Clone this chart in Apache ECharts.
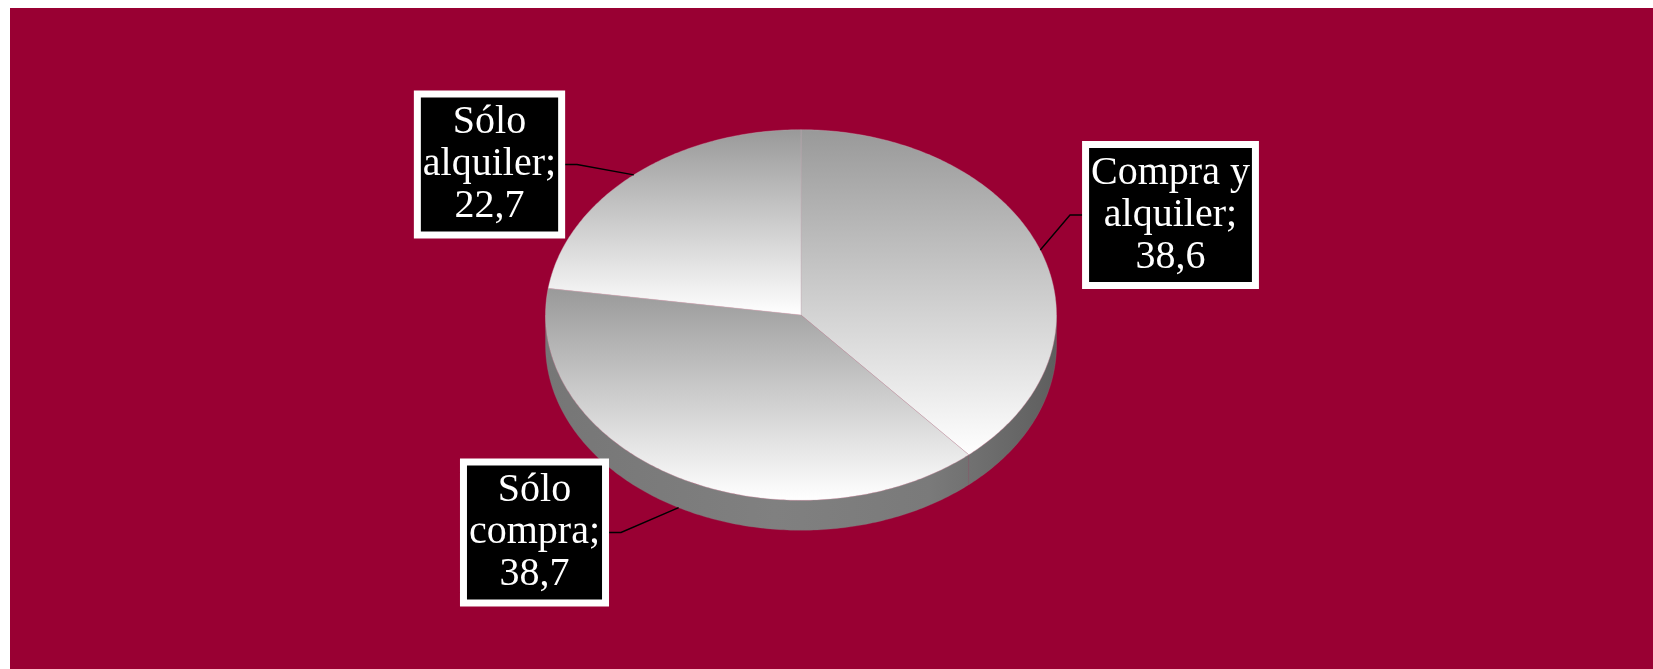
<!DOCTYPE html>
<html><head><meta charset="utf-8">
<script src="https://cdn.jsdelivr.net/npm/echarts@6/dist/echarts.min.js"></script>
<style>html,body{margin:0;padding:0;background:#fff;}#c{width:1653px;height:669px;}</style>
</head><body><div id="c"></div>
<script>
// ---- data ----
const categories = ['Compra y alquiler', 'Sólo compra', 'Sólo alquiler'];
const values = [38.6, 38.7, 22.7];

// ---- layout ----
const CX = 801, CY = 315, RX = 255.5, RY = 185.3, DEPTH = 30;
const LABEL_POS = [[369.5, -100], [-266.5, 217.5], [-311.5, -150.5]];
const ELBOW_DX = [-100.5, 86.5, 87.5];

const total = values.reduce((a, b) => a + b, 0);
const starts = []; let acc = 0;
values.forEach(v => { starts.push(acc / total * 2 * Math.PI); acc += v; });
function angles(i) { return [starts[i], starts[i] + values[i] / total * 2 * Math.PI]; }
function P(t, dy) { return [CX + RX * Math.sin(t), CY - RY * Math.cos(t) + (dy || 0)]; }
function arc(a1, a2, dy) {
  const n = Math.max(2, Math.ceil((a2 - a1) / (Math.PI / 240)));
  const pts = [];
  for (let k = 0; k <= n; k++) pts.push(P(a1 + (a2 - a1) * k / n, dy));
  return pts;
}
function labelText(i) {
  const name = categories[i];
  const k = name.lastIndexOf(' ');
  return name.slice(0, k) + '\n' + name.slice(k + 1) + ';\n' + String(values[i]).replace('.', ',');
}

const sideGrad = {
  type: 'linear', global: true, x: CX - RX, y: 0, x2: CX + RX, y2: 0,
  colorStops: [
    { offset: 0, color: '#767676' }, { offset: 0.45, color: '#808080' },
    { offset: 0.75, color: '#7a7a7a' }, { offset: 1, color: '#5e5e5e' }
  ]
};
const topGrad = {
  type: 'linear', x: 0, y: 0, x2: 0, y2: 1,
  colorStops: [{ offset: 0, color: '#999999' }, { offset: 1, color: '#ffffff' }]
};

function renderSide(params) {
  const i = params.dataIndex;
  const [a1, a2] = angles(i);
  const s = Math.max(a1, Math.PI / 2), e = Math.min(a2, 1.5 * Math.PI);
  if (e <= s) return { type: 'group', children: [] };
  const top = arc(s, e, 0), bot = arc(s, e, DEPTH).reverse();
  return { type: 'polygon', shape: { points: top.concat(bot) }, style: { fill: sideGrad, stroke: 'rgba(140,110,120,0.5)', lineWidth: 0.6 } };
}

function renderTop(params) {
  const i = params.dataIndex;
  const [a1, a2] = angles(i);
  const pts = [[CX, CY]].concat(arc(a1, a2, 0));
  const mid = (a1 + a2) / 2;
  const front = mid > Math.PI / 2 && mid < 1.5 * Math.PI;
  const anchor = P(mid, front ? DEPTH : 0);
  const lp = [CX + LABEL_POS[i][0], CY + LABEL_POS[i][1]];
  const elbow = [lp[0] + ELBOW_DX[i], lp[1]];
  return {
    type: 'group', children: [
      { type: 'polygon', shape: { points: pts }, style: { fill: topGrad, stroke: 'rgba(200,170,180,0.6)', lineWidth: 0.6 }, z2: 1 },
      { type: 'polyline', shape: { points: [anchor, elbow, lp] }, style: { stroke: '#000', lineWidth: 1.4, fill: null }, z2: 5 },
      {
        type: 'text', x: lp[0], y: lp[1], z2: 10,
        style: {
          text: labelText(i), fill: '#fff', fontSize: 40,
          fontFamily: "'Liberation Serif', 'Times New Roman', serif",
          lineHeight: 42, align: 'center', verticalAlign: 'middle',
          backgroundColor: '#000', borderColor: '#fff', borderWidth: 7, padding: [4, 2]
        }
      }
    ]
  };
}

const seriesData = values.map((v, i) => ({ name: categories[i], value: v }));
const chart = echarts.init(document.getElementById('c'), null, { renderer: 'canvas' });
chart.setOption({
  animation: false,
  backgroundColor: '#ffffff',
  graphic: [{ type: 'rect', left: 10, top: 8, z: -10, shape: { width: 1643, height: 661 }, style: { fill: '#990033' } }],
  series: [
    { type: 'custom', coordinateSystem: 'none', z: 1, silent: true, renderItem: renderSide, data: seriesData },
    { type: 'custom', coordinateSystem: 'none', z: 2, silent: true, renderItem: renderTop, data: seriesData }
  ]
});
</script>
</body></html>
